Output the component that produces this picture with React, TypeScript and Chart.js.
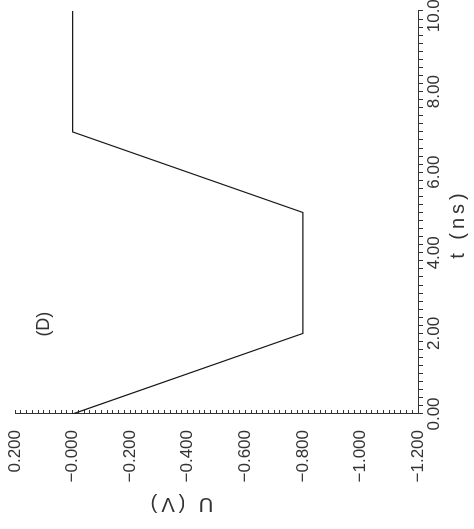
import React, { useEffect, useRef } from "react";
import { Chart, registerables } from "chart.js";

Chart.register(...registerables);

// ---- data ----
const timeNs = [0, 2, 5, 7, 10];
const voltage = [0, -0.8, -0.8, 0, 0];

const tTickValues = [0, 2, 4, 6, 8, 10];
const tTickLabels = ["0.00", "2.00", "4.00", "6.00", "8.00", "10.00"];
const uTickValues = [0.2, 0, -0.2, -0.4, -0.6, -0.8, -1.0, -1.2];
const uTickLabels = ["0.200", "\u22120.000", "\u22120.200", "\u22120.400", "\u22120.600", "\u22120.800", "\u22121.000", "\u22121.200"];

const xTitle = "t (ns)";
const yTitle = "U (V)";
const panelLabel = "(D)";
const panelLabelAt = { t: 2.23, u: 0.1 };

// ---- style ----
const INK = "#333";
const FONT = '"Liberation Sans", Arial, sans-serif';
const W = 529; // upright chart width (page height)
const H = 474; // upright chart height (page width)

function lookup(values: number[], labels: string[], v: number): string {
  const i = values.findIndex((x) => Math.abs(x - v) < 1e-6);
  return i >= 0 ? labels[i] : "";
}

const textPlugin = {
  id: "extraTexts",
  afterDraw(chart: any) {
    const { ctx, chartArea, scales } = chart;
    ctx.save();
    ctx.fillStyle = INK;
    ctx.textAlign = "center";
    ctx.textBaseline = "middle";
    ctx.font = `20px ${FONT}`;
    (ctx as any).letterSpacing = "4px";
    ctx.fillText(xTitle, chartArea.left + 190, chartArea.bottom + 40);
    ctx.save();
    ctx.translate(25, chartArea.top + 165);
    ctx.rotate(-Math.PI / 2);
    ctx.fillText(yTitle, 0, 0);
    ctx.restore();
    (ctx as any).letterSpacing = "0px";
    ctx.font = `18px ${FONT}`;
    ctx.fillText(
      panelLabel,
      scales.x.getPixelForValue(panelLabelAt.t),
      scales.y.getPixelForValue(panelLabelAt.u)
    );
    ctx.restore();
  },
};

export default function App() {
  const ref = useRef<HTMLCanvasElement | null>(null);

  useEffect(() => {
    if (!ref.current) return;
    const chart = new Chart(ref.current, {
      type: "line",
      data: {
        datasets: [
          {
            data: timeNs.map((t, i) => ({ x: t, y: voltage[i] })),
            borderColor: "#1a1a1a",
            borderWidth: 1.2,
            pointRadius: 0,
            fill: false,
            tension: 0,
          },
        ],
      },
      options: {
        animation: false,
        responsive: false,
        events: [],
        layout: { padding: { top: 15, right: 11, left: 0, bottom: 0 } },
        plugins: {
          legend: { display: false },
          tooltip: { enabled: false },
          title: { display: false },
        },
        scales: {
          x: {
            type: "linear",
            position: "bottom",
            min: 0,
            max: 10,
            ticks: {
              stepSize: 0.2,
              autoSkip: false,
              maxRotation: 0,
              minRotation: 0,
              padding: 1,
              color: INK,
              font: { family: FONT, size: 17 },
              callback: (v: any) => lookup(tTickValues, tTickLabels, Number(v)),
            },
            grid: {
              drawOnChartArea: false,
              drawTicks: true,
              tickLength: 5,
              color: INK,
            },
            border: { display: true, color: "#333", width: 1 },
            afterFit: (s: any) => {
              s.height = 56;
              s.paddingLeft = 0;
              s.paddingRight = 0;
            },
          },
          y: {
            type: "linear",
            position: "left",
            min: -1.2,
            max: 0.2,
            ticks: {
              stepSize: 0.02,
              autoSkip: false,
              padding: 20,
              color: INK,
              font: { family: FONT, size: 17 },
              callback: (v: any) => lookup(uTickValues, uTickLabels, Number(v)),
            },
            grid: {
              drawOnChartArea: false,
              drawTicks: true,
              tickLength: -4,
              color: INK,
            },
            border: { display: true, color: "#333", width: 1 },
            afterFit: (s: any) => {
              s.width = 115;
              s.paddingTop = 0;
              s.paddingBottom = 0;
            },
          },
        },
      },
      plugins: [textPlugin],
    });
    return () => chart.destroy();
  }, []);

  return (
    <div
      style={{
        position: "fixed",
        left: 0,
        top: 0,
        width: H,
        height: W,
        overflow: "hidden",
        background: "#fff",
      }}
    >
      <div
        style={{
          position: "absolute",
          left: 0,
          top: 0,
          width: W,
          height: H,
          transformOrigin: "0 0",
          transform: `translate(0px, ${W}px) rotate(-90deg)`,
        }}
      >
        <canvas ref={ref} width={W} height={H} style={{ display: "block" }} />
      </div>
    </div>
  );
}
